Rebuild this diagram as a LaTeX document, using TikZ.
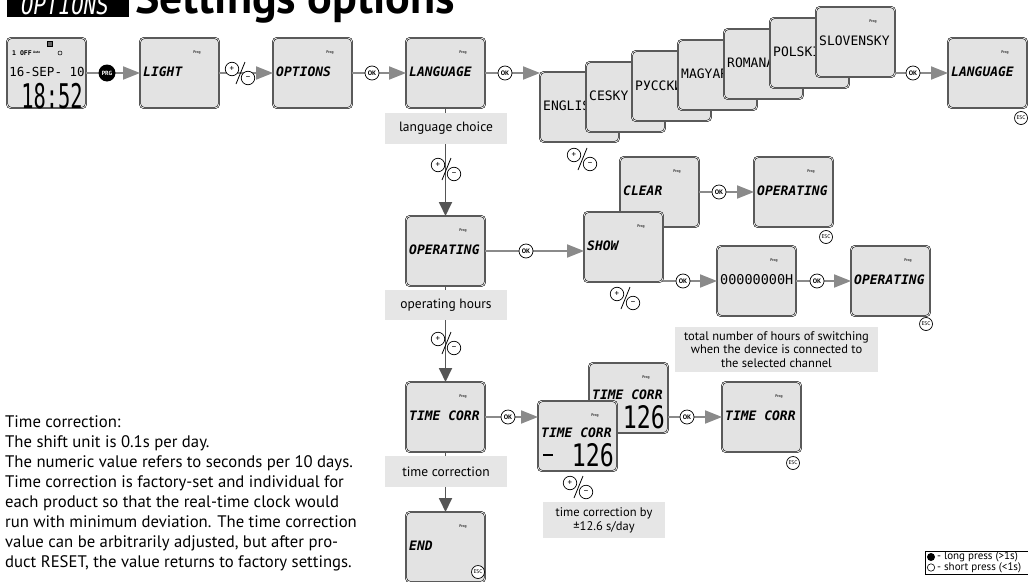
\documentclass[tikz,border=0pt]{standalone}
\usepackage{fontspec}
\setmainfont{PT Sans}
\newfontfamily\lcdfont{DejaVu Sans Mono}
\usetikzlibrary{arrows.meta}
\definecolor{lcdfill}{HTML}{E3E3E3}
\definecolor{boxgray}{HTML}{E6E6E6}
\definecolor{arrgray}{HTML}{8A8A8A}
\definecolor{vdark}{HTML}{555555}
\newcommand\fs[1]{\fontsize{#1}{#1}\selectfont}
\tikzset{
  lcd/.style={draw=black, line width=0.55pt, double=white, double distance=0.8pt, fill=lcdfill, rounded corners=4pt, minimum width=79pt, minimum height=70pt, anchor=north west, inner sep=0pt, outer sep=0pt},
  prog/.style={font=\bfseries\fs{3.8}, inner sep=0pt, text=black!80},
  lcdlab/.style={font=\lcdfont\bfseries\itshape\fs{13}, anchor=west, inner sep=0pt},
  lcdplain/.style={font=\lcdfont\fs{13}, anchor=west, inner sep=0pt},
  harrow/.style={draw=arrgray, line width=2pt, -{Triangle[length=17pt,width=13pt]}},
  varrow/.style={draw=vdark, line width=1.8pt, -{Triangle[length=14pt,width=13pt]}},
  okbtn/.style={circle, draw=black, line width=0.7pt, fill=white, minimum size=14pt, inner sep=0pt, font=\bfseries\fs{6.5}},
  escbtn/.style={circle, draw=black, line width=0.7pt, fill=white, minimum size=13pt, inner sep=0pt, font=\fs{5.5}},
  prgbtn/.style={circle, fill=black, minimum size=17pt, inner sep=0pt, text=white, font=\bfseries\fs{6}},
  graybox/.style={fill=boxgray, inner sep=0pt, align=center, font=\fs{13.5}},
  pmcirc/.style={circle, draw=black, line width=0.7pt, fill=white, minimum size=13.5pt, inner sep=0pt, font=\fs{9}},
  pm/.pic={
    \node[pmcirc] (-plus) at (-8,-4) {+};
    \node[pmcirc] (-minus) at (8,5) {\raisebox{0.5pt}{–}};
    \draw[line width=0.8pt] (-4,11) -- (5,-11);
  },
}
\newcommand\lcdscreen[4]{%
  \node[lcd] (#1) at (#2,#3) {};
  \node[prog] (#1-prog) at ([shift={(57,15)}]#1.north west) {Prog};
  \node[lcdlab] (#1-lab) at ([shift={(3,34)}]#1.north west) {#4};
}
\newcommand\langscreen[4]{%
  \node[lcd] (#1) at (#2,#3) {};
  \node[lcdplain] (#1-lab) at ([shift={(3,34)}]#1.north west) {#4};
}
\begin{document}
\begin{tikzpicture}[x=1pt,y=-1pt]
\useasboundingbox (0,0) rectangle (1028,581);
\clip (0,0) rectangle (1028,581);

% title
\fill (7,-5) rectangle (129,17);
\node[anchor=base west, inner sep=0pt, text=white, font=\lcdfont\itshape\fs{26}] (ttag) at (21,14) {\scalebox{0.8}[1]{OPTIONS}};
\node[anchor=base west, inner sep=0pt, font=\bfseries\fs{46}] (title) at (135,13) {Settings options};

% clock screen
\node[lcd] (clock) at (7,38) {};
\node[anchor=west, inner sep=0pt, font=\lcdfont\bfseries\fs{6.5}] (clk-off) at (12,53) {1 OFF};
\node[anchor=west, inner sep=0pt, font=\bfseries\fs{3.5}] (clk-auto) at (33,52.5) {Auto};
\draw[line width=0.6pt, fill=black!60] (47,41) rectangle (52,46);
\draw[line width=0.5pt] (60,53) circle (2);
\node[inner sep=0pt, font=\lcdfont\fs{12.5}] (clk-date) at (47,72) {16-SEP- 10};
\node[inner sep=0pt, font=\lcdfont\fs{34}] (clk-time) at (52,96) {\scalebox{0.6}[1]{18:52}};

\lcdscreen{light}{140}{38}{LIGHT}
\lcdscreen{options}{273}{38}{OPTIONS}
\lcdscreen{lang}{406}{38}{LANGUAGE}

% language stack
\langscreen{english}{540}{72}{ENGLISH}
\langscreen{cesky}{586}{62}{CESKY}
\langscreen{pyccki}{632}{51}{РУССКИЙ}
\langscreen{magyar}{678}{40}{MAGYAR}
\langscreen{romana}{724}{29}{ROMANA}
\langscreen{polski}{770}{18}{POLSKI}
\langscreen{slovensky}{816}{7}{SLOVENSKY}
\node[prog] (slovensky-prog) at ([shift={(57,15)}]slovensky.north west) {Prog};

\lcdscreen{lang2}{948}{38}{LANGUAGE}

% operating hours
\lcdscreen{oper}{406}{216}{OPERATING}
\lcdscreen{clear}{620}{157}{CLEAR}
\lcdscreen{show}{584}{212}{SHOW}
\lcdscreen{opt1}{754}{157}{OPERATING}
\node[lcd] (hex) at (717,246) {};
\node[prog] (hex-prog) at ([shift={(57,15)}]hex.north west) {Prog};
\node[lcdplain, font=\lcdfont\fs{13.5}] (hex-lab) at ([shift={(3,34)}]hex.north west) {00000000H};
\lcdscreen{opt2}{851}{246}{OPERATING}

% time correction
\lcdscreen{tc}{406}{382}{TIME CORR}
\node[lcd] (back) at (589,363) {};
\node[prog] (back-prog) at ([shift={(57,15)}]back.north west) {Prog};
\node[lcdlab] (back-lab) at ([shift={(3,32)}]back.north west) {TIME CORR};
\node[anchor=east, inner sep=0pt, font=\lcdfont\fs{31}] (back-num) at ([shift={(76,54)}]back.north west) {\scalebox{0.75}[1]{126}};
\node[lcd] (front) at (538,401) {};
\node[prog] (front-prog) at ([shift={(57,15)}]front.north west) {Prog};
\node[lcdlab] (front-lab) at ([shift={(3,32)}]front.north west) {TIME CORR};
\node[anchor=east, inner sep=0pt, font=\lcdfont\fs{31}] (front-num) at ([shift={(76,54)}]front.north west) {\scalebox{0.75}[1]{126}};
\draw[line width=2.6pt] ([shift={(5,54)}]front.north west) -- ([shift={(15,54)}]front.north west);
\lcdscreen{tcres}{722}{382}{TIME CORR}
\lcdscreen{endscr}{406}{512}{END}

% connectors
\draw[harrow] (clock.east) -- (light.west);
\draw[harrow] (light.east) -- (options.west);
\draw[harrow] (options.east) -- (lang.west);
\draw[harrow] (lang.east) -- (lang.east -| english.west);
\draw[harrow] (lang2.west -| slovensky.east) -- (lang2.west);
\draw[varrow] (lang.south) -- (oper.north);
\draw[harrow] (oper.east) -- (oper.east -| show.west);
\draw[harrow] (clear.east) -- (opt1.west);
\draw[harrow] (hex.west -| show.east) -- (hex.west);
\draw[harrow] (hex.east) -- (opt2.west);
\draw[varrow] (oper.south) -- (tc.north);
\draw[harrow] (tc.east) -- (tc.east -| front.west);
\draw[harrow] (tcres.west -| back.east) -- (tcres.west);
\draw[varrow] (tc.south) -- (endscr.north);

% gray captions
\node[graybox, minimum width=122pt, minimum height=31pt] (lcbox) at (446,128.5) {language choice};
\node[graybox, minimum width=122pt, minimum height=30pt] (ohbox) at (446,305) {operating hours};
\node[graybox, minimum width=122pt, minimum height=31pt] (tcbox) at (446,471.5) {time correction};
\node[graybox, minimum width=203pt, minimum height=45pt, font=\fontsize{12.5}{13.5}\selectfont] (totbox) at (776.5,349.5) {total number of hours of switching\\when the device is connected to\\the selected channel};
\node[graybox, minimum width=122pt, minimum height=36pt, font=\fontsize{12.5}{14}\selectfont] (tcbybox) at (604,520) {time correction by\\±12.6 s/day};

% buttons
\node[prgbtn] (prg) at (107,73) {PRG};
\pic (pm1) at (240,73) {pm};
\node[okbtn] (ok1) at (372,73) {OK};
\node[okbtn] (ok2) at (505,73) {OK};
\pic (pm2) at (582,159) {pm};
\node[okbtn] (ok3) at (913,73) {OK};
\node[escbtn] (esc1) at (1021,118) {ESC};
\pic (pm3) at (446,169) {pm};
\node[okbtn] (ok4) at (526,251) {OK};
\node[okbtn] (ok5) at (719,192) {OK};
\node[escbtn] (esc2) at (826,237) {ESC};
\pic (pm4) at (625,298) {pm};
\node[okbtn] (ok6) at (683,281) {OK};
\node[okbtn] (ok7) at (817,281) {OK};
\node[escbtn] (esc3) at (926,324) {ESC};
\pic (pm5) at (446,343) {pm};
\node[okbtn] (ok8) at (508,417) {OK};
\node[okbtn] (ok9) at (687,417) {OK};
\node[escbtn] (esc4) at (793,463) {ESC};
\pic (pm6) at (578,487) {pm};
\node[escbtn] (esc5) at (478,572) {ESC};

% left note
\node[anchor=north west, align=left, inner sep=0pt, font=\fontsize{16.7}{20}\selectfont] (note) at (5,415) {Time correction:\\The shift unit is 0.1s per day.\\The numeric value refers to seconds per 10 days.\\Time correction is factory-set and individual for\\each product so that the real-time clock would\\run with minimum deviation. The time correction\\value can be arbitrarily adjusted, but after pro-\\duct RESET, the value returns to factory settings.};

% legend
\node[draw, line width=0.6pt, minimum width=120pt, minimum height=23pt, anchor=north west, inner sep=0pt] (legend) at (925,551) {};
\fill (931,557) circle (4);
\draw[line width=0.6pt] (931,567.5) circle (3.7);
\node[anchor=west, inner sep=0pt, font=\fs{11}] (leg1) at (937,556.5) {- long press (>1s)};
\node[anchor=west, inner sep=0pt, font=\fs{11}] (leg2) at (937,567.5) {- short press (<1s)};
\end{tikzpicture}
\end{document}
